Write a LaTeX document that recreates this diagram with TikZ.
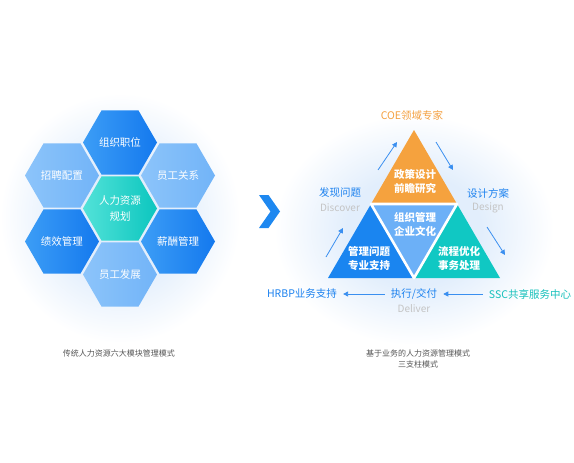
\documentclass[tikz,border=0pt]{standalone}
\usepackage{fontspec}
\setmainfont{Noto Sans CJK SC}
\usetikzlibrary{shapes.geometric,arrows.meta}
\definecolor{glowc}{HTML}{E2EEFC}
\definecolor{hexDarkL}{HTML}{3C9DF6}
\definecolor{hexDarkR}{HTML}{1479EE}
\definecolor{hexLightL}{HTML}{8CC4FA}
\definecolor{hexLightR}{HTML}{72B4F8}
\definecolor{hexTealL}{HTML}{52E2D8}
\definecolor{hexTealR}{HTML}{0CC6BF}
\definecolor{triOrange}{HTML}{F5A23E}
\definecolor{triBlue}{HTML}{1A85F0}
\definecolor{triMid}{HTML}{6CB0F7}
\definecolor{triTeal}{HTML}{10C8C3}
\definecolor{lblBlue}{HTML}{1D82EF}
\definecolor{lblTeal}{HTML}{17C1BC}
\definecolor{lblOrange}{HTML}{F4A040}
\definecolor{lblGray}{HTML}{C4C4C4}
\definecolor{capGray}{HTML}{555555}
\definecolor{arrBlue}{HTML}{3A8FF0}
\definecolor{chevBlue}{HTML}{1E88F0}
\pgfdeclareradialshading{glowshade}{\pgfpoint{0bp}{0bp}}{color(0bp)=(glowc); color(12bp)=(glowc); color(25bp)=(white); color(50bp)=(white)}
\tikzset{
  hex/.style={regular polygon, regular polygon sides=6, minimum size=74pt, inner sep=0pt,
    text=white, font=\fontsize{10.5}{16}\selectfont, align=center},
  hexdark/.style={hex, left color=hexDarkL, right color=hexDarkR},
  hexlight/.style={hex, left color=hexLightL, right color=hexLightR},
  hexteal/.style={hex, left color=hexTealL, right color=hexTealR},
  trilbl/.style={text=white, font=\fontsize{10.5}{14}\selectfont\bfseries, align=center, inner sep=0pt},
  blbl/.style={text=lblBlue, font=\fontsize{10.5}{12}\selectfont, inner sep=0pt},
  glbl/.style={text=lblGray, font=\fontsize{10}{12}\selectfont, inner sep=0pt},
  arr/.style={draw=arrBlue, line width=0.8pt, -{Triangle[length=5pt,width=5pt]}},
  caption/.style={text=capGray, font=\fontsize{8}{11}\selectfont, align=center, inner sep=0pt}
}
\begin{document}
\begin{tikzpicture}[x=1pt,y=-1pt]
\useasboundingbox (0,0) rectangle (574,463);
\fill[white] (0,0) rectangle (574,463);
% glows
\shade[shading=glowshade] (120,218) ellipse [x radius=120, y radius=125];
\shade[shading=glowshade] (414,230) ellipse [x radius=140, y radius=115];

% hexagon cluster
\node[hexteal]  (hc)  at (120,208.5) {人力资源\\规划};
\node[hexdark]  (ht)  at (120,142.5) {组织职位};
\node[hexlight] (htl) at (62,175.5)  {招聘配置};
\node[hexlight] (htr) at (178,175.5) {员工关系};
\node[hexdark]  (hbl) at (62,241.5)  {绩效管理};
\node[hexdark]  (hbr) at (178,241.5) {薪酬管理};
\node[hexlight] (hb)  at (120,274.5) {员工发展};

% chevron
\fill[chevBlue] (259,195)--(268.5,195)--(280,211.5)--(268.5,228)--(259,228)--(270.5,211.5)--cycle;

% triangle
\coordinate (A) at (414,130);
\coordinate (B) at (328,278);
\coordinate (C) at (500,278);
\coordinate (M1) at (371,204);
\coordinate (M2) at (457,204);
\coordinate (M3) at (414,278);
\fill[triOrange] (A)--(M1)--(M2)--cycle;
\fill[triBlue] (M1)--(B)--(M3)--cycle;
\fill[triMid] (M1)--(M2)--(M3)--cycle;
\fill[triTeal] (M2)--(M3)--(C)--cycle;
\draw[white, line width=2.6pt, line join=round] (M1)--(M2)--(M3)--cycle;

\node[trilbl] (t1) at (415,182) {政策设计\\前瞻研究};
\node[trilbl] (t2) at (415,224) {组织管理\\企业文化};
\node[trilbl] (t3) at (369,258.5) {管理问题\\专业支持};
\node[trilbl] (t4) at (459,258.5) {流程优化\\事务处理};

% labels
\node[blbl, text=lblOrange] (coe) at (412,115) {COE领域专家};
\node[blbl] (disc) at (340,193) {发现问题};
\node[glbl] (disce) at (340,207.5) {Discover};
\node[blbl] (desi) at (488,193) {设计方案};
\node[glbl] (desie) at (488,207.5) {Design};
\node[blbl] (hrbp) at (302,294) {HRBP业务支持};
\node[blbl] (exec) at (414,294) {执行/交付};
\node[glbl] (exece) at (414,308.5) {Deliver};
\node[blbl, text=lblTeal] (ssc) at (530,294) {SSC共享服务中心};

% arrows
\coordinate (a1s) at (378,170); \coordinate (a1e) at (397,142);
\coordinate (a2s) at (326,257); \coordinate (a2e) at (343,228);
\coordinate (a3s) at (436,142); \coordinate (a3e) at (453,170);
\coordinate (a4s) at (487,227); \coordinate (a4e) at (505,255);
\draw[arr] (a1s) -- (a1e);
\draw[arr] (a2s) -- (a2e);
\draw[arr] (a3s) -- (a3e);
\draw[arr] (a4s) -- (a4e);
\draw[arr] ([xshift=-6pt]exec.west) -- ([xshift=6pt]hrbp.east);
\draw[arr] ([xshift=-6pt]ssc.west) -- ([xshift=6pt]exec.east);

% captions
\node[caption] (cap1) at (119,353) {传统人力资源六大模块管理模式};
\node[caption] (cap2) at (418,358.5) {基于业务的人力资源管理模式\\三支柱模式};
\end{tikzpicture}
\end{document}
